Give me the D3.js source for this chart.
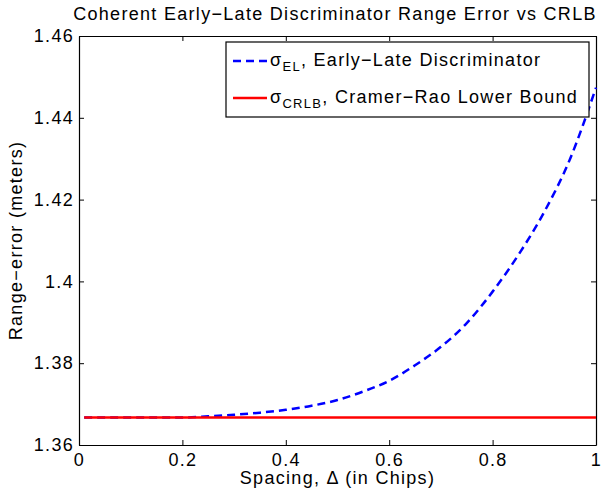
<!DOCTYPE html>
<html>
<head>
<meta charset="utf-8">
<script src="https://cdn.jsdelivr.net/npm/d3@7"></script>
<style>
  body { margin: 0; background: #fff; }
  svg { display: block; font-family: "Liberation Sans", Arial, Helvetica, sans-serif; letter-spacing: 1.3px; }
  .axis text { font-size: 18px; fill: #000; }
  .axis path, .axis line { stroke: #000; }
</style>
</head>
<body>
<div id="chart"></div>
<script>
'use strict'

// Data.
const spacing = [0.01, 0.05, 0.1, 0.15, 0.2, 0.25, 0.3, 0.35, 0.4, 0.45, 0.5,
    0.55, 0.6, 0.65, 0.7, 0.75, 0.8, 0.85, 0.9, 0.95, 1.0];
const sigmaEL = [1.3667, 1.3667, 1.3667, 1.3667, 1.3667, 1.3670, 1.3674, 1.3679, 1.3686, 1.3696, 1.3710,
    1.3731, 1.3757, 1.3795, 1.3840, 1.3898, 1.3975, 1.4065, 1.4170, 1.4300, 1.4474];
const sigmaCRLB = [1.3667, 1.3667, 1.3667, 1.3667, 1.3667, 1.3667, 1.3667, 1.3667, 1.3667, 1.3667, 1.3667,
    1.3667, 1.3667, 1.3667, 1.3667, 1.3667, 1.3667, 1.3667, 1.3667, 1.3667, 1.3667];
const xTicks = [0, 0.2, 0.4, 0.6, 0.8, 1];
const yTicks = [1.36, 1.38, 1.4, 1.42, 1.44, 1.46];

// Dimensions
const width = 601, height = 495;
const margin = {top: 36, right: 5, bottom: 50, left: 79};

const x = d3.scaleLinear()
    .domain([0, 1])
    .range([margin.left, width - margin.right]);

const y = d3.scaleLinear()
    .domain([1.36, 1.46])
    .range([height - margin.bottom, margin.top]);

const svg = d3.select('#chart')
    .append('svg')
        .attr('width', width)
        .attr('height', height)
        .attr('viewBox', [0, 0, width, height]);

svg.append('rect')
    .attr('width', width)
    .attr('height', height)
    .attr('fill', '#fff');

// Axes, MATLAB style box with inward ticks.
svg.append('g')
    .attr('class', 'axis')
    .attr('transform', `translate(0, ${y.range()[0]})`)
    .call(d3.axisBottom(x).tickValues(xTicks).tickFormat(d3.format('')).tickSizeInner(-5).tickSizeOuter(0).tickPadding(8));

svg.append('g')
    .attr('class', 'axis')
    .attr('transform', `translate(0, ${y.range()[1]})`)
    .call(d3.axisTop(x).tickValues(xTicks).tickFormat('').tickSizeInner(-5).tickSizeOuter(0));

svg.append('g')
    .attr('class', 'axis')
    .attr('transform', `translate(${x.range()[0]}, 0)`)
    .call(d3.axisLeft(y).tickValues(yTicks).tickFormat(d3.format('')).tickSizeInner(-5).tickSizeOuter(0).tickPadding(5));

svg.append('g')
    .attr('class', 'axis')
    .attr('transform', `translate(${x.range()[1]}, 0)`)
    .call(d3.axisRight(y).tickValues(yTicks).tickFormat('').tickSizeInner(-5).tickSizeOuter(0));

svg.selectAll('.axis .domain').attr('stroke-width', 1.2);

// Lines (EL first, CRLB drawn on top)
const line = d3.line()
    .x((d, i) => x(spacing[i]))
    .y(d => y(d))
    .curve(d3.curveMonotoneX);

svg.append('path')
    .datum(sigmaEL)
    .attr('fill', 'none')
    .attr('stroke', '#0000ff')
    .attr('stroke-width', 2.5)
    .attr('stroke-dasharray', '8,5')
    .attr('d', line);

svg.append('path')
    .datum(sigmaCRLB)
    .attr('fill', 'none')
    .attr('stroke', '#ff0000')
    .attr('stroke-width', 2.5)
    .attr('d', line);

// Title and axis labels
svg.append('text')
    .attr('x', 335)
    .attr('y', 20)
    .attr('text-anchor', 'middle')
    .attr('font-size', 18)
    .text('Coherent Early\u2212Late Discriminator Range Error vs CRLB');

svg.append('text')
    .attr('x', (x.range()[0] + x.range()[1]) / 2)
    .attr('y', 484)
    .attr('text-anchor', 'middle')
    .attr('font-size', 18)
    .text('Spacing, \u0394 (in Chips)');

svg.append('text')
    .attr('transform', `translate(22, ${(y.range()[0] + y.range()[1]) / 2}) rotate(-90)`)
    .attr('text-anchor', 'middle')
    .attr('font-size', 18)
    .text('Range\u2212error (meters)');

// Legend
const legend = svg.append('g').attr('class', 'legend');

legend.append('rect')
    .attr('x', 226)
    .attr('y', 42)
    .attr('width', 363)
    .attr('height', 75)
    .attr('fill', '#fff')
    .attr('stroke', '#000')
    .attr('stroke-width', 1.2);

const items = [
    {sub: 'EL', label: ', Early\u2212Late Discriminator', color: '#0000ff', dash: '8,5', y: 61},
    {sub: 'CRLB', label: ', Cramer\u2212Rao Lower Bound', color: '#ff0000', dash: null, y: 98}
];

items.forEach(it => {
    legend.append('line')
        .attr('x1', 233).attr('x2', 267)
        .attr('y1', it.y).attr('y2', it.y)
        .attr('stroke', it.color)
        .attr('stroke-width', 2.5)
        .attr('stroke-dasharray', it.dash);

    const t = legend.append('text')
        .attr('x', 270)
        .attr('y', it.y + 5)
        .attr('font-size', 18);
    t.append('tspan').text('\u03c3');
    t.append('tspan').attr('font-size', 13).attr('dy', 5).text(it.sub);
    t.append('tspan').attr('dy', -5).text(it.label);
});
</script>
</body>
</html>
